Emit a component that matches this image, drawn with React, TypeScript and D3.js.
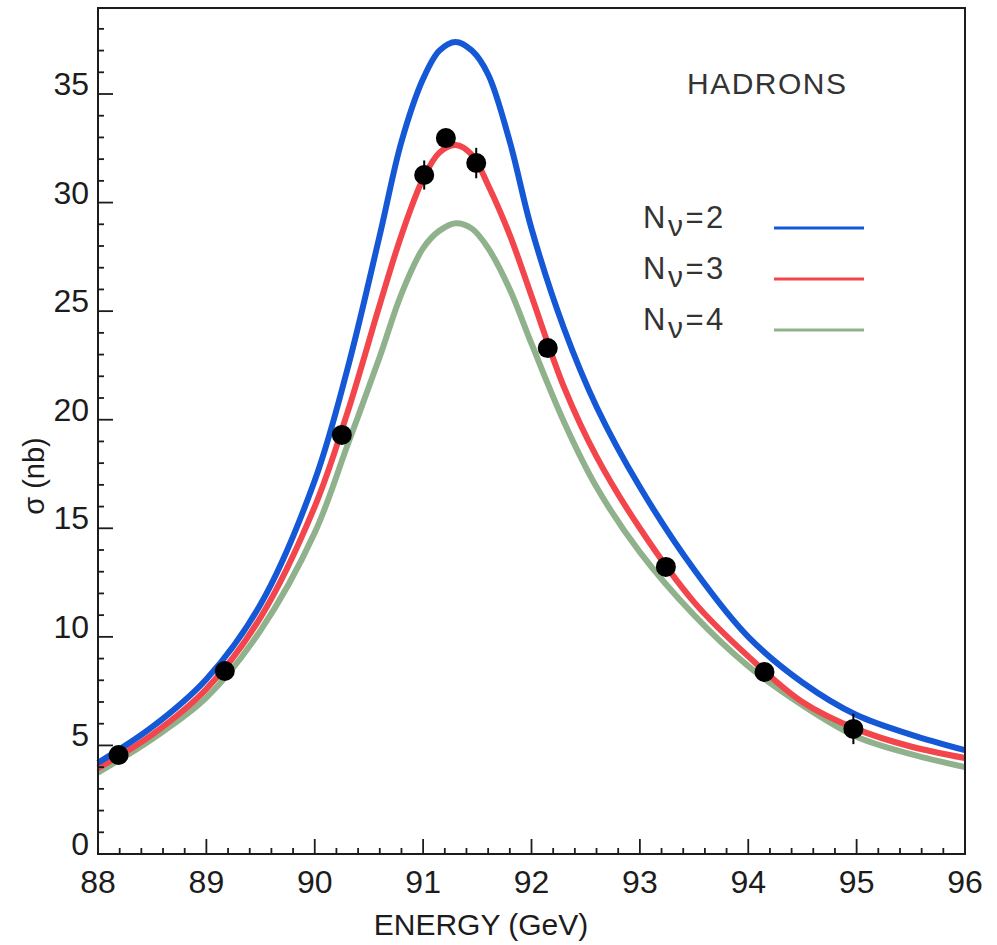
import React from "react";
import * as d3 from "d3";

const energies = [
  88.0, 88.5, 89.0, 89.5, 90.0, 90.3, 90.6, 90.8, 91.0, 91.15, 91.3, 91.45,
  91.6, 91.8, 92.0, 92.3, 92.6, 93.0, 93.5, 94.0, 94.5, 95.0, 95.5, 96.0,
];
const nu2 = [
  4.2, 5.85, 8.05, 11.5, 17.2, 22.3, 28.5, 32.8, 35.7, 37.0, 37.4, 37.0,
  35.9, 32.8, 28.8, 24.2, 20.6, 16.9, 13.1, 10.0, 7.9, 6.4, 5.5, 4.78,
];
const nu3 = [
  3.95, 5.5, 7.6, 10.9, 16.0, 20.3, 25.3, 28.5, 31.1, 32.3, 32.65, 32.2,
  30.8, 28.5, 25.7, 21.5, 18.3, 15.0, 11.6, 9.1, 7.0, 5.75, 4.95, 4.42,
];
const nu4 = [
  3.75, 5.3, 7.2, 10.3, 14.8, 18.8, 22.9, 25.8, 27.9, 28.7, 29.05, 28.8,
  27.9, 26.0, 23.5, 19.9, 16.9, 13.9, 11.0, 8.65, 6.85, 5.4, 4.6, 4.0,
];

// measured hadronic cross sections
const dataE = [88.19, 89.17, 90.25, 91.01, 91.21, 91.49, 92.15, 93.24, 94.15, 94.97];
const dataSigma = [4.56, 8.43, 19.3, 31.27, 32.97, 31.82, 23.3, 13.22, 8.38, 5.76];
const dataErr = [0.3, 0.3, 0.35, 0.67, 0.4, 0.7, 0.35, 0.3, 0.3, 0.7];

const xTicks = [88, 89, 90, 91, 92, 93, 94, 95, 96];
const yTicks = [0, 5, 10, 15, 20, 25, 30, 35];

const series = [
  { label: "2", values: nu2, color: "#1558d6" },
  { label: "3", values: nu3, color: "#f2464c" },
  { label: "4", values: nu4, color: "#8fb28c" },
];

const W = 997;
const H = 945;
const left = 98;
const right = 965;
const bottom = 854;

export default function App() {
  const x = d3.scaleLinear().domain([88, 96]).range([left, right]);
  const y = d3.scaleLinear().domain([0, 35]).range([bottom, 94]);
  const top = y(38.96);

  const line = d3
    .line<number>()
    .x((_, i) => x(energies[i]))
    .y((d) => y(d))
    .curve(d3.curveCatmullRom.alpha(0.5));

  const minorX = d3.range(88, 96.001, 0.2);
  const minorY = d3.range(0, 39, 1);
  const font = "'Liberation Sans', Arial, Helvetica, sans-serif";
  const ink = "#1c1c1c";

  return (
    <svg
      width={W}
      height={H}
      style={{ position: "absolute", left: 0, top: 0, background: "#fff" }}
      fontFamily={font}
    >
      {/* curves, drawn back to front: green, red, blue */}
      {[series[2], series[1], series[0]].map((s) => (
        <path
          key={s.label}
          d={line(s.values) || ""}
          fill="none"
          stroke={s.color}
          strokeWidth={6}
        />
      ))}

      {/* measurements */}
      {dataE.map((e, i) => (
        <g key={i}>
          <line
            x1={x(e)}
            x2={x(e)}
            y1={y(dataSigma[i] - dataErr[i])}
            y2={y(dataSigma[i] + dataErr[i])}
            stroke="#000"
            strokeWidth={2}
          />
          <circle cx={x(e)} cy={y(dataSigma[i])} r={10} fill="#000" />
        </g>
      ))}

      {/* frame */}
      <rect
        x={left}
        y={top}
        width={right - left}
        height={bottom - top}
        fill="none"
        stroke={ink}
        strokeWidth={2}
      />

      {/* x ticks */}
      {minorX.map((t, i) => (
        <line
          key={"mx" + i}
          x1={x(t)}
          x2={x(t)}
          y1={bottom}
          y2={bottom - (i % 5 === 0 ? 15 : 6)}
          stroke={ink}
          strokeWidth={1.8}
        />
      ))}
      {xTicks.map((t) => (
        <text
          key={"xl" + t}
          x={x(t)}
          y={893}
          textAnchor="middle"
          fontSize={32}
          fill={ink}
        >
          {t}
        </text>
      ))}

      {/* y ticks */}
      {minorY.map((t) => (
        <line
          key={"my" + t}
          x1={left}
          x2={left + (t % 5 === 0 ? 15 : 6)}
          y1={y(t)}
          y2={y(t)}
          stroke={ink}
          strokeWidth={1.8}
        />
      ))}
      {yTicks.map((t) => (
        <text
          key={"yl" + t}
          x={89}
          y={y(t) + 1}
          textAnchor="end"
          fontSize={32}
          fill={ink}
        >
          {t}
        </text>
      ))}

      {/* axis titles */}
      <text x={481} y={935} textAnchor="middle" fontSize={30} fill={ink}>
        ENERGY (GeV)
      </text>
      <text
        transform={`translate(44,476) rotate(-90)`}
        textAnchor="middle"
        fontSize={29}
        fill={ink}
      >
        σ (nb)
      </text>

      <text x={687} y={94} fontSize={30} fill="#333" letterSpacing={1.5}>
        HADRONS
      </text>

      {/* legend */}
      {series.map((s, i) => {
        const ly = 228 + i * 51;
        return (
          <g key={"lg" + s.label}>
            <text x={643} y={ly} fontSize={31} fill="#333" letterSpacing={2.5}>
              N
              <tspan dy={8} fontSize={30}>
                ν
              </tspan>
              <tspan dy={-8}>={s.label}</tspan>
            </text>
            <line
              x1={774}
              x2={864}
              y1={ly}
              y2={ly}
              stroke={s.color}
              strokeWidth={3}
            />
          </g>
        );
      })}
    </svg>
  );
}
